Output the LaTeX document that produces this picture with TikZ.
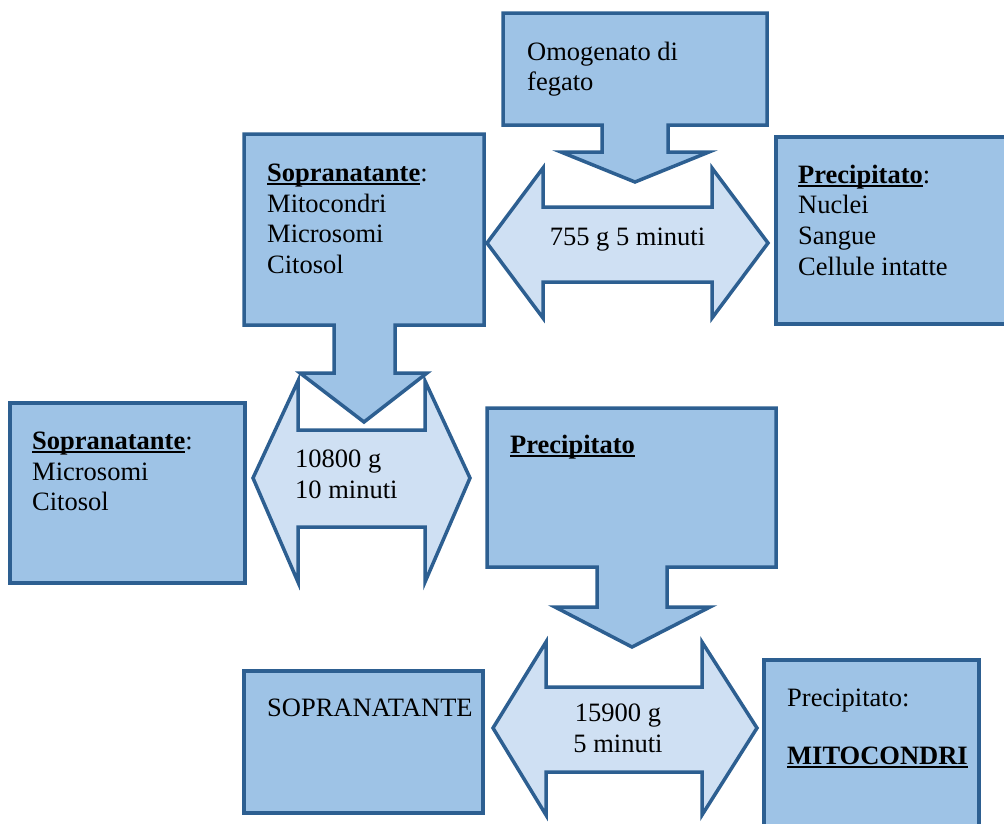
\documentclass[tikz,border=0pt]{standalone}
\usepackage{fontspec}
\setmainfont{Liberation Serif}
\usepackage{tikz}

\definecolor{boxfill}{RGB}{158,195,230}
\definecolor{arrowfill}{RGB}{207,224,243}
\definecolor{edgeblue}{RGB}{45,95,145}

\newlength{\sottolen}
\newcommand{\sotto}[1]{\settowidth{\sottolen}{#1}\makebox[0pt][l]{\rule[-3.5pt]{\sottolen}{1.8pt}}#1}

\begin{document}
\begin{tikzpicture}[x=1pt,y=-1pt]
%  \draw [step=50,color=gray] (0,0) grid (1004,823);
  \useasboundingbox (0,0) rectangle (1004,823);
  \tikzstyle{blockbox}=[draw=edgeblue,fill=boxfill,line width=3.5pt]
  \tikzstyle{spinarrow}=[draw=edgeblue,fill=arrowfill,line width=3.5pt]
  \tikzstyle{every node}=[anchor=north west,inner sep=0pt,align=left,
    font=\fontsize{26.5}{30.8}\selectfont]

  % double arrows (centrifugation)
  \draw[spinarrow] (487,243) -- (543,168) -- (543,207) -- (712,207) -- (712,168)
        -- (768,243) -- (712,318) -- (712,282) -- (543,282) -- (543,318) -- cycle;
  \draw[spinarrow] (253,478) -- (298,381) -- (298,430) -- (425,430) -- (425,381)
        -- (470,478) -- (425,582) -- (425,527) -- (298,527) -- (298,582) -- cycle;
  \draw[spinarrow] (493,728) -- (546,642) -- (546,687) -- (702,687) -- (702,642)
        -- (757,728) -- (702,815) -- (702,772) -- (546,772) -- (546,815) -- cycle;

  % callouts
  \draw[blockbox] (503,13) -- (767,13) -- (767,125) -- (668,125) -- (668,152)
        -- (709,152) -- (635,182) -- (561,152) -- (602,152) -- (602,125)
        -- (503,125) -- cycle;
  \draw[blockbox] (244,134) -- (484,134) -- (484,325) -- (395,325) -- (395,373)
        -- (427,373) -- (364,422) -- (300,373) -- (334,373) -- (334,325)
        -- (244,325) -- cycle;
  \draw[blockbox] (487,408) -- (776,408) -- (776,567) -- (667,567) -- (667,607)
        -- (710,607) -- (632,647) -- (555,607) -- (597,607) -- (597,567)
        -- (487,567) -- cycle;

  % plain boxes
  \draw[blockbox] (776,137) rectangle (1015,324);
  \draw[blockbox] (10,403) rectangle (245,583);
  \draw[blockbox] (244,671) rectangle (483,813);
  \draw[blockbox] (764,660) rectangle (979,840);

  % texts
  \path (527,41.6) node (omogenato) {Omogenato di\\fegato};
  \path (267,163.6) node (sopra1) {\sotto{\textbf{Sopranatante}}:\\Mitocondri\\Microsomi\\Citosol};
  \path (798,164.6) node (prec1) {\sotto{\textbf{Precipitato}}:\\Nuclei\\Sangue\\Cellule intatte};
  \path (627.5,245) node[anchor=base] (spin1) {755 g 5 minuti};
  \path (32,431.6) node (sopra2) {\sotto{\textbf{Sopranatante}}:\\Microsomi\\Citosol};
  \path (295,449.7) node (spin2) {10800 g\\10 minuti};
  \path (510,434.6) node (prec2) {\sotto{\textbf{Precipitato}}};
  \path (267,699) node (sopra3) {SOPRANATANTE};
  \path (618,703.7) node[anchor=north,align=center] (spin3) {15900 g\\5 minuti};
  \path (787,688.6) node (prec3) {Precipitato:\\[27pt]\sotto{\textbf{MITOCONDRI}}};
\end{tikzpicture}
\end{document}
